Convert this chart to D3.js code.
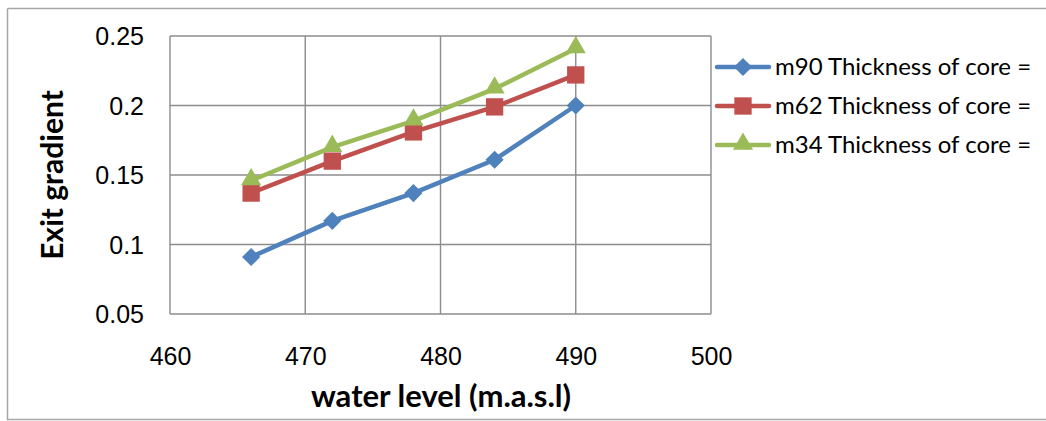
<!DOCTYPE html>
<html>
<head>
<meta charset="utf-8">
<script src="https://cdn.jsdelivr.net/npm/d3@7"></script>
<style>
  html, body { margin: 0; padding: 0; background: #fff; }
  svg { display: block; }
</style>
</head>
<body>
<svg id="chart" width="1046" height="421"></svg>
<script>
// Water level (m.a.s.l) at which the exit gradient was computed
const waterLevels = [466, 472, 478, 484, 490];

// Exit gradient for each core thickness
const seriesNames = ["m90 Thickness of core =", "m62 Thickness of core =", "m34 Thickness of core ="];
const core90 = [0.091, 0.117, 0.137, 0.161, 0.200];
const core62 = [0.137, 0.160, 0.181, 0.199, 0.222];
const core34 = [0.146, 0.170, 0.189, 0.212, 0.241];

const xTicks = [460, 470, 480, 490, 500];
const yTicks = [0.05, 0.1, 0.15, 0.2, 0.25];

const series = [
  { name: seriesNames[0], values: core90, color: "#4F81BD", marker: "diamond" },
  { name: seriesNames[1], values: core62, color: "#C0504D", marker: "square" },
  { name: seriesNames[2], values: core34, color: "#9BBB59", marker: "triangle" }
];

const svg = d3.select("#chart");
const plot = { left: 170, right: 711, top: 36, bottom: 314 };

const x = d3.scaleLinear().domain([460, 500]).range([plot.left, plot.right]);
const y = d3.scaleLinear().domain([0.05, 0.25]).range([plot.bottom, plot.top]);

// outer chart frame
svg.append("path")
  .attr("d", "M7.5,8.5 H1046 M7.5,8.5 V419.5 H1046")
  .attr("fill", "none").attr("stroke", "#A6A6A6").attr("stroke-width", 1.5);

// gridlines
const grid = svg.append("g").attr("stroke", "#8C8C8C").attr("stroke-width", 1.4);
grid.selectAll(".gx").data(xTicks).join("line")
  .attr("x1", d => x(d)).attr("x2", d => x(d))
  .attr("y1", plot.top).attr("y2", plot.bottom);
grid.selectAll(".gy").data(yTicks).join("line")
  .attr("x1", plot.left).attr("x2", plot.right)
  .attr("y1", d => y(d)).attr("y2", d => y(d));

// axes (labels only, lines are drawn by the grid)
const xAxis = svg.append("g")
  .attr("transform", `translate(0,${plot.bottom})`)
  .call(d3.axisBottom(x).tickValues(xTicks).tickSize(0).tickFormat(d3.format("d")));
const yAxis = svg.append("g")
  .attr("transform", `translate(${plot.left - 26},0)`)
  .call(d3.axisLeft(y).tickValues(yTicks).tickSize(0).tickFormat(d => String(d)));
[xAxis, yAxis].forEach(a => {
  a.select(".domain").remove();
  a.selectAll("text")
    .attr("font-family", "'Liberation Sans', Arial, sans-serif")
    .attr("font-size", 25).attr("fill", "#000");
});
yAxis.selectAll("text").attr("x", 0).attr("dy", "0.35em");
xAxis.selectAll("text").attr("y", 51).attr("dy", null);

// axis titles
svg.append("text")
  .attr("x", 441).attr("y", 407)
  .attr("text-anchor", "middle")
  .attr("font-family", "Lato, 'Open Sans', sans-serif")
  .attr("font-weight", "bold").attr("font-size", 31)
  .text("water level (m.a.s.l)");
svg.append("text")
  .attr("transform", "translate(63,175) rotate(-90)")
  .attr("text-anchor", "middle")
  .attr("font-family", "Lato, 'Open Sans', sans-serif")
  .attr("font-weight", "bold").attr("font-size", 30)
  .text("Exit gradient");

// marker shapes
const symbolFor = {
  diamond: d3.symbol().type(d3.symbolSquare).size(165),
  square: d3.symbol().type(d3.symbolSquare).size(300),
  triangle: d3.symbol().type(d3.symbolTriangle).size(175)
};
function drawMarker(g, s, cx, cy) {
  const p = g.append("path")
    .attr("d", symbolFor[s.marker]())
    .attr("fill", s.color);
  if (s.marker === "diamond") p.attr("transform", `translate(${cx},${cy}) rotate(45)`);
  else if (s.marker === "triangle") p.attr("transform", `translate(${cx},${cy - 1})`);
  else p.attr("transform", `translate(${cx},${cy})`);
}

const line = d3.line().x((d, i) => x(waterLevels[i])).y(d => y(d));

series.forEach(s => {
  const g = svg.append("g");
  g.append("path")
    .datum(s.values)
    .attr("d", line)
    .attr("fill", "none")
    .attr("stroke", s.color)
    .attr("stroke-width", 4.5)
    .attr("stroke-linejoin", "round");
  s.values.forEach((v, i) => drawMarker(g, s, x(waterLevels[i]), y(v)));
});

// legend
const legendRows = [67, 106, 145];
series.forEach((s, i) => {
  const g = svg.append("g");
  const ly = legendRows[i];
  g.append("line")
    .attr("x1", 717).attr("x2", 769).attr("y1", ly).attr("y2", ly)
    .attr("stroke", s.color).attr("stroke-width", 4.5).attr("stroke-linecap", "round");
  drawMarker(g, s, 743, ly);
  g.append("text")
    .attr("x", 775).attr("y", ly).attr("dy", "0.35em")
    .attr("font-family", "Lato, 'Open Sans', sans-serif")
    .attr("font-size", 24).attr("fill", "#000")
    .text(s.name);
});
</script>
</body>
</html>
